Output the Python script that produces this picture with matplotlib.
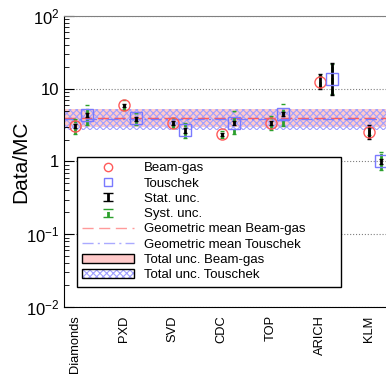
import matplotlib.pyplot as plt
import numpy as np
from matplotlib.patches import Patch
from matplotlib.lines import Line2D
from matplotlib.legend_handler import HandlerErrorbar, HandlerTuple

plt.rcParams['font.family'] = ['Liberation Sans', 'DejaVu Sans']
plt.rcParams['mathtext.fontset'] = 'custom'
plt.rcParams['mathtext.rm'] = 'Liberation Sans'
plt.rcParams['mathtext.it'] = 'Liberation Sans:italic'
plt.rcParams['hatch.linewidth'] = 0.8

categories = ['Diamonds', 'PXD', 'SVD', 'CDC', 'TOP', 'ARICH', 'KLM']

# Beam-gas
bg = [3.06, 5.89, 3.4, 2.38, 3.4, 12.4, 2.58]
bg_stat_lo = [2.85, 5.6, 3.2, 2.25, 3.2, 9.8, 2.07]
bg_stat_hi = [3.3, 6.2, 3.6, 2.5, 3.6, 16.0, 3.22]
bg_syst_lo = [2.42, 5.07, 2.9, 2.12, 2.75, 10.5, 2.3]
bg_syst_hi = [3.8, 6.9, 3.98, 2.61, 4.19, 15.0, 2.9]

# Touschek
tou = [4.39, 3.9, 2.67, 3.4, 4.47, 13.7, 1.0]
tou_stat_lo = [4.1, 3.65, 2.5, 3.2, 4.2, 8.3, 0.93]
tou_stat_hi = [4.7, 4.15, 2.85, 3.6, 4.75, 22.7, 1.08]
tou_syst_lo = [3.15, 3.15, 2.12, 2.4, 3.06, 8.5, 0.76]
tou_syst_hi = [6.07, 4.67, 3.4, 5.0, 6.2, 22.0, 1.36]

# geometric means and total uncertainty bands
bg_mean = 3.94
bg_band = (2.99, 5.19)
tou_mean = 3.78
tou_band = (2.7, 5.25)

red = '#ff5a5a'
blue = '#7a7aff'
green = '#2ca02c'
hatch_blue = '#a0a0ff'


class CapHandler(HandlerErrorbar):
    # bigger caps in the legend than on the points
    def create_artists(self, *args, **kwargs):
        arts = super().create_artists(*args, **kwargs)
        for a in arts:
            if isinstance(a, Line2D) and a.get_marker() == '_':
                a.set_markersize(7)
        return arts


fig = plt.figure(figsize=(3.86, 3.76), dpi=100)
ax = fig.add_axes([0.166, 0.1835, 0.834, 0.774])

x = np.arange(len(categories))
x_bg = x
x_tou = x + 0.25

xlim = (-0.22, 6.35)
ax.fill_between(xlim, bg_band[0], bg_band[1], color='#ffcaca', lw=0, zorder=1)
ax.fill_between(xlim, tou_band[0], tou_band[1], facecolor='none', edgecolor=hatch_blue,
                hatch='xxxxx', lw=0, zorder=1.5)
ax.axhline(bg_mean, color=red, ls=(0, (8, 4)), lw=1.0, zorder=2)
ax.axhline(tou_mean, color=blue, ls=(0, (8, 3, 1.5, 3)), lw=1.0, zorder=2)


def err(v, lo, hi):
    v = np.array(v)
    return [v - np.array(lo), np.array(hi) - v]


syst = ax.errorbar(x_bg, bg, yerr=err(bg, bg_syst_lo, bg_syst_hi), fmt='none',
                   ecolor=green, elinewidth=2, capsize=1.5, zorder=3)
syst[2][0].set_linestyle((0, (2, 2)))
s2 = ax.errorbar(x_tou, tou, yerr=err(tou, tou_syst_lo, tou_syst_hi), fmt='none',
                 ecolor=green, elinewidth=2, capsize=1.5, zorder=3)
s2[2][0].set_linestyle((0, (2, 2)))

stat = ax.errorbar(x_bg, bg, yerr=err(bg, bg_stat_lo, bg_stat_hi), fmt='none',
                   ecolor='black', elinewidth=2, capsize=1.5, zorder=4)
ax.errorbar(x_tou, tou, yerr=err(tou, tou_stat_lo, tou_stat_hi), fmt='none',
            ecolor='black', elinewidth=2, capsize=1.5, zorder=4)

ax.plot(x_bg, bg, 'o', mfc='none', mec=red, ms=8, mew=1, ls='none', zorder=5)
ax.plot(x_tou, tou, 's', mfc='none', mec=blue, ms=8.5, mew=1, ls='none', zorder=5)

ax.set_yscale('log')
ax.set_ylim(1e-2, 1e2)
ax.set_xlim(*xlim)
ax.set_xticks(x)
ax.set_xticklabels(categories, rotation=90, fontsize=9.3)
ax.tick_params(axis='x', length=0, pad=6)
ax.tick_params(axis='y', which='both', direction='in', labelsize=12)
ax.tick_params(axis='y', which='major', length=7)
ax.tick_params(axis='y', which='minor', length=3.5)
ax.set_yticks([1e-2, 1e-1, 1, 10, 100])
ax.set_yticklabels(['$10^{-2}$', '$10^{-1}$', '1', '10', '$10^{2}$'])
ax.grid(axis='y', which='major', color='gray', ls=':', lw=0.8)
ax.spines['right'].set_visible(False)
ax.spines['top'].set_color('gray')
ax.set_ylabel('Data/MC', fontsize=15)
ax.yaxis.set_label_coords(-0.105, 0.5)

# legend proxies
l_bg, = ax.plot([], [], 'o', mfc='none', mec=red, ms=6, mew=1)
l_tou, = ax.plot([], [], 's', mfc='none', mec=blue, ms=6, mew=1)
h_gbg, = ax.plot([], [], color='#ff9a9a', ls=(0, (8, 4)), lw=1)
h_gt, = ax.plot([], [], color='#aaaaff', ls=(0, (8, 3, 1.5, 3)), lw=1)
p_bg = Patch(facecolor='#ffcaca', edgecolor='black', lw=1)
p_hatch = Patch(facecolor='white', edgecolor=hatch_blue, hatch='xxxxx', lw=0)
p_edge = Patch(facecolor='none', edgecolor='black', lw=1)

leg = ax.legend([l_bg, l_tou, stat, syst, h_gbg, h_gt, p_bg, (p_hatch, p_edge)],
                ['Beam-gas', 'Touschek', 'Stat. unc.', 'Syst. unc.',
                 'Geometric mean Beam-gas', 'Geometric mean Touschek',
                 'Total unc. Beam-gas', 'Total unc. Touschek'],
                handler_map={stat: CapHandler(yerr_size=0.3),
                             syst: CapHandler(yerr_size=0.3),
                             tuple: HandlerTuple(ndivide=1)},
                loc='upper left', bbox_to_anchor=(0.04, 0.072, 0.82, 0.444), mode='expand',
                borderaxespad=0, fontsize=9.5, fancybox=False, framealpha=1,
                edgecolor='black', handlelength=3.9, handletextpad=0.8,
                labelspacing=0.23, borderpad=0.4)
leg.get_frame().set_linewidth(1)
leg.set_zorder(10)
fig.savefig('out.png', dpi=100)
